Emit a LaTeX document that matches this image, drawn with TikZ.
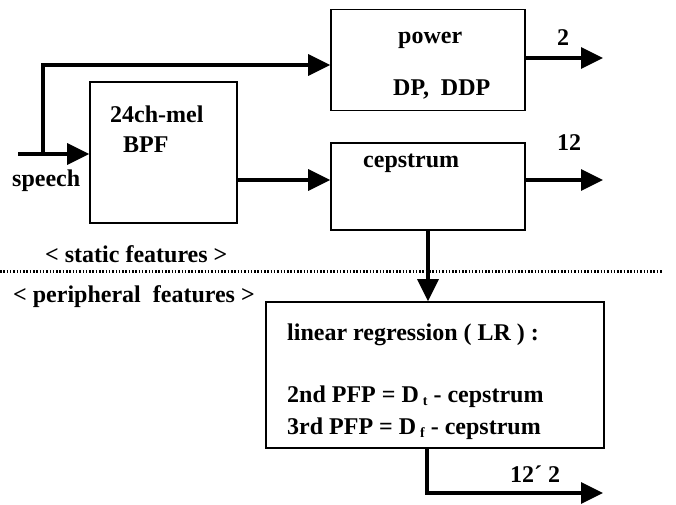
\documentclass[tikz,border=0pt]{standalone}
\usepackage{fontspec}
\setmainfont{Liberation Serif}
\usetikzlibrary{arrows.meta}
\begin{document}
\begin{tikzpicture}[x=1pt,y=-1pt,
  box/.style={draw,line width=1.6pt,inner sep=0pt},
  conn/.style={line width=3.2pt},
  arr/.style={conn,-{Triangle[length=22pt,width=21pt]}},
  lbl/.style={font=\bfseries\fontsize{24}{28}\selectfont,inner sep=0pt,anchor=base west}]
\useasboundingbox (0,0) rectangle (676,504);
% boxes
\node[box,minimum width=194pt,minimum height=101pt] (pow) at (428,60) {};
\node[box,minimum width=147pt,minimum height=141pt] (bpf) at (163.5,152.5) {};
\node[box,minimum width=194pt,minimum height=87pt] (cep) at (428,186.5) {};
\node[box,minimum width=338pt,minimum height=146pt] (lr) at (435,375) {};
% texts
\node[lbl] (tpow) at (398,43) {power};
\node[lbl] (tdp) at (393,95) {DP,\ \ DDP};
\node[lbl] (tbpf1) at (110,122) {24ch-mel};
\node[lbl] (tbpf2) at (123,152) {BPF};
\node[lbl] (tcep) at (363,167) {cepstrum};
\node[lbl] (tsp) at (12,186) {speech};
\node[lbl] (tstat) at (45,262) {< static features >};
\node[lbl] (tper) at (13,302) {< peripheral\ \ features >};
\node[lbl] (tlr) at (287,340) {linear regression ( LR ) :};
\node[lbl] (t2) at (287,402) {2nd PFP = D\,\raisebox{-3pt}{\fontsize{14}{14}\selectfont t} - cepstrum};
\node[lbl] (t3) at (287,434) {3rd PFP = D\,\raisebox{-3pt}{\fontsize{14}{14}\selectfont f} - cepstrum};
\node[lbl] (l2) at (557,45) {2};
\node[lbl] (l12) at (557,150) {12};
\node[lbl] (l122) at (510,482) {12´ 2};
% coordinates
\coordinate (sin) at (18,154);
\coordinate (br) at (43,154);
\coordinate (o1) at (603,58);
\coordinate (o2) at (603,180);
\coordinate (o3) at (603,493);
% dotted separator
\draw[line width=3pt,dash pattern=on 1.5pt off 1.8pt] (0,271) -- (662,271);
% connectors
\draw[arr] (sin) -- (bpf.west |- sin);
\draw[arr] (br) -- (43,65) -- (pow.west |- 0,65);
\draw[arr] (pow.east |- o1) -- (o1);
\draw[arr] (bpf.east |- 0,180) -- (cep.west |- 0,180);
\draw[arr] (cep.east |- o2) -- (o2);
\draw[arr] (cep.south) -- (lr.north -| cep.south);
\draw[arr] (lr.south -| 427,0) -- (427,493) -- (o3);
\end{tikzpicture}
\end{document}
